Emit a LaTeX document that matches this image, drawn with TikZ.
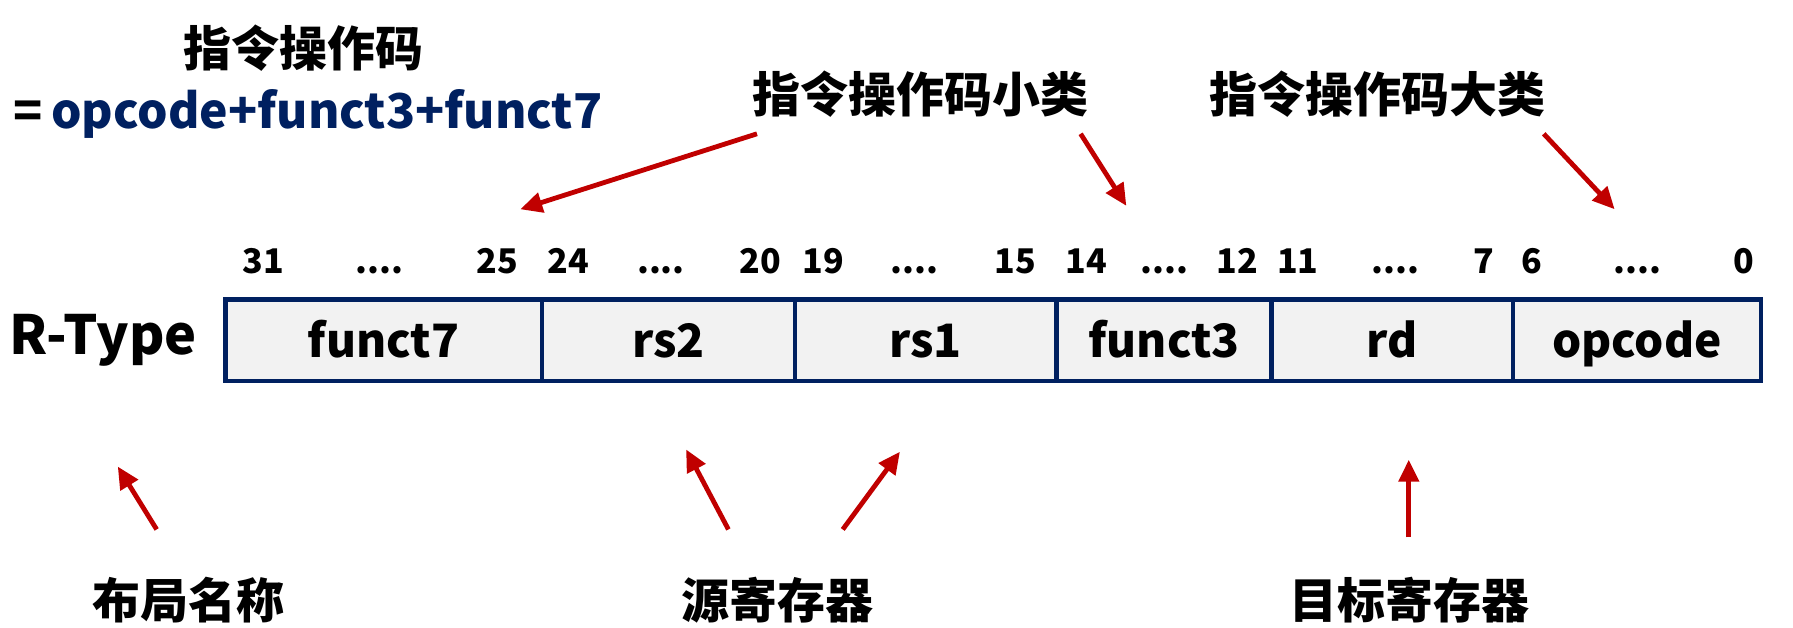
\documentclass[tikz,border=0pt]{standalone}
\usepackage{fontspec}
\setmainfont{Noto Sans CJK SC}
\usetikzlibrary{positioning}
\usetikzlibrary{arrows.meta}
\definecolor{navy}{HTML}{002060}
\definecolor{arrowred}{HTML}{C00000}
\definecolor{cellgray}{HTML}{F2F2F2}
\newcommand{\bitdots}{....}

\begin{document}
\begin{tikzpicture}[x=0.57175pt, y=-0.57175pt, field/.style={draw=navy, line width=2.3pt, fill=cellgray, minimum height=40.6pt, inner sep=0pt, outer sep=0pt, text height=20pt, text depth=3pt, font=\bfseries\fontsize{23}{26}\selectfont}]
\tikzstyle{bits}=[anchor=base, font=\bfseries\fontsize{17}{19}\selectfont]
\tikzstyle{tag}=[font=\bfseries\fontsize{24}{28}\selectfont]
\tikzstyle{pointer}=[draw=arrowred, line width=2.4pt, -{Triangle[length=11pt,width=10pt]}]

\useasboundingbox (0,0) rectangle (1568,549);

% campos
\node (funct7) [field, minimum width=158.4pt] at (335.5,297.5) {funct7};
\node (rs2) [field, minimum width=126.4pt, right=0pt of funct7] {rs2};
\node (rs1) [field, minimum width=130.9pt, right=0pt of rs2] {rs1};
\node (funct3) [field, minimum width=107.5pt, right=0pt of rs1] {funct3};
\node (rd) [field, minimum width=120.6pt, right=0pt of funct3] {rd};
\node (opcode) [field, minimum width=124.1pt, right=0pt of rd] {opcode};
\node (rtype) [font=\bfseries\fontsize{27}{30}\selectfont, inner sep=0pt, left=14pt of funct7] {R-Type};

% bits
\foreach \x/\t [count=\i] in {230/31, 332/\bitdots, 435/25, 497/24, 578/\bitdots, 665/20, 720/19, 800/\bitdots, 888/15, 950/14, 1018/\bitdots, 1082/12, 1135/11, 1220/\bitdots, 1298/7, 1340/6, 1432/\bitdots, 1525/0}
  \node (bit\i) [bits] at (\x,239) {\t};

% arriba
\node (opname) [tag] at (265,42) {指令操作码};
\node (formula) [tag, anchor=west] at (6,100) {=\,\textcolor{navy}{opcode+funct3+funct7}};
\node (minor) [tag] at (805,82) {指令操作码小类};
\node (major) [tag] at (1205,82) {指令操作码大类};

% abajo
\node (layout) [tag] at (165,525) {布局名称};
\node (srcreg) [tag] at (680,525) {源寄存器};
\node (dstreg) [tag] at (1233,525) {目标寄存器};

% flechas
\coordinate (s1) at (662,117); \coordinate (e1) at (455,183);
\coordinate (s2) at (945,117); \coordinate (e2) at (985,180);
\coordinate (s3) at (1350,117); \coordinate (e3) at (1412,183);
\coordinate (s4) at (137,463); \coordinate (e4) at (103,408);
\coordinate (s5) at (637,463); \coordinate (e5) at (600,393);
\coordinate (s6) at (737,463); \coordinate (e6) at (787,395);
\coordinate (s7) at (1232,470); \coordinate (e7) at (1232,402);
\foreach \i in {1,...,7}
  \draw [pointer] (s\i) -- (e\i);
\end{tikzpicture}
\end{document}
